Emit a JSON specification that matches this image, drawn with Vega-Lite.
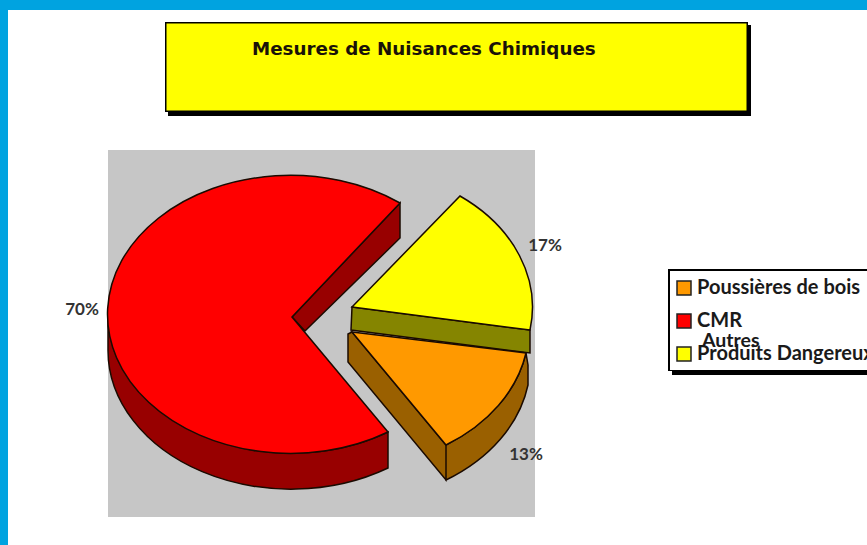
{"$schema":"https://vega.github.io/schema/vega-lite/v6.json","width":868,"height":546,"padding":0,"autosize":"none","background":"white","config":{"view":{"stroke":null}},
"title":{"text":"Mesures de Nuisances Chimiques","anchor":"start","frame":"group","dx":252,"dy":73,"offset":0,"baseline":"alphabetic","font":"DejaVu Sans","fontSize":18.3,"fontWeight":"bold","color":"#1a1208"},
"datasets":{"tranches":[{"categorie":"Poussières de bois","part":0.13,"flanc":"flanc bois"},{"categorie":"CMR","part":0.70,"flanc":"flanc CMR"},{"categorie":"Autres Produits Dangereux","part":0.17,"flanc":"flanc autres"}],
"cadres":[{"element":"bandeau"},{"element":"fond"},{"element":"contour titre"},{"element":"cartouche titre"},{"element":"contour legende"},{"element":"cartouche legende"}]},
"layer":[
{"data":{"name":"cadres"},"mark":{"type":"point","filled":true,"opacity":1,"size":4},
"encoding":{"shape":{"field":"element","legend":null,"scale":{"domain":["bandeau","fond","contour titre","cartouche titre","contour legende","cartouche legende"],"range":["M-434 -273 H434 V-263 H-426 V273 H-434 Z","M-326 -123 H101 V244 H-326 Z","M-269 -251 H314 V-161 H-269 Z M-266 -248 H317 V-157 H-266 Z","M-267.5 -249.5 H312.5 V-162.5 H-267.5 Z","M234 -4 H466 V98 H234 Z M238 0 H466 V102 H238 Z","M236 -2 H466 V97 H236 Z"]}},
"fill":{"field":"element","title":null,"scale":{"domain":["Poussières de bois","CMR","Autres Produits Dangereux","flanc bois","flanc CMR","flanc autres","bandeau","fond","contour titre","cartouche titre","contour legende","cartouche legende"],"range":["#ff9900","#ff0000","#ffff00","#9a6000","#980000","#858500","#00a3e0","#c6c6c6","#000000","#ffff00","#000000","#ffffff"]},
"legend":{"values":["Poussières de bois","CMR","Autres Produits Dangereux"],"orient":"none","legendX":674,"legendY":278,"padding":0,"symbolType":"square","symbolSize":196,"symbolStrokeColor":"#222222","symbolStrokeWidth":1.5,"labelFont":"Lato","labelFontSize":20,"labelFontWeight":"bold","labelColor":"#1a1a1a","labelLimit":400,"rowPadding":13,"labelOffset":3,"labelExpr":"datum.label == 'Autres Produits Dangereux' ? 'Produits Dangereux' : datum.label"}}}},
{"data":{"name":"tranches"},"mark":{"type":"point","filled":true,"opacity":1,"size":4,"stroke":"#1a0a00","strokeWidth":1.5},
"encoding":{"shape":{"field":"categorie","legend":null,"scale":{"domain":["Poussières de bois","CMR","Autres Produits Dangereux"],"range":["M-82 59 L12 172 L12 207 L-86 89 L-86 61 Z M92 80 L94 92 L94 112 A181 139 0 0 1 12 207 L12 172 A181 139 0 0 0 92 80 Z","M-326 41 A183 139 0 0 0 -46 159 L-46 195 A183 139 0 0 1 -326 77 Z M-34 -70 L-34 -35 L-129 58 L-142 44 Z","M-82 34 L96 57 L96 80 L-83 57 Z"]}},
"fill":{"field":"flanc","title":null}}},
{"data":{"name":"tranches"},"mark":{"type":"point","filled":true,"opacity":1,"size":4,"stroke":"#1a0a00","strokeWidth":1.5},
"encoding":{"shape":{"field":"categorie","legend":null,"scale":{"domain":["Poussières de bois","CMR","Autres Produits Dangereux"],"range":["M-82 59 L92 80 A181 139 0 0 1 12 172 Z","M-142 44 L-34 -70 A183 139 0 1 0 -46 159 Z","M-82 34 L26 -77 A181 139 0 0 1 96 57 Z"]}},
"fill":{"field":"categorie","title":null}}},
{"data":{"values":[{"mention":"Autres"}]},"mark":{"type":"text","font":"Lato","fontWeight":"bold","fontSize":19.5,"color":"#1a1a1a","align":"left","dx":268,"dy":68},"encoding":{"text":{"field":"mention"}}},
{"data":{"name":"tranches"},"transform":[{"filter":"datum.categorie == 'CMR'"}],"mark":{"type":"text","font":"Lato","fontWeight":"bold","fontSize":17,"color":"#333333","dx":-352,"dy":37},"encoding":{"text":{"field":"part","format":".0%"}}},
{"data":{"name":"tranches"},"transform":[{"filter":"datum.categorie == 'Autres Produits Dangereux'"}],"mark":{"type":"text","font":"Lato","fontWeight":"bold","fontSize":17,"color":"#333333","dx":111,"dy":-27},"encoding":{"text":{"field":"part","format":".0%"}}},
{"data":{"name":"tranches"},"transform":[{"filter":"datum.categorie == 'Poussières de bois'"}],"mark":{"type":"text","font":"Lato","fontWeight":"bold","fontSize":17,"color":"#333333","dx":92,"dy":182},"encoding":{"text":{"field":"part","format":".0%"}}}
],
"resolve":{"scale":{"shape":"independent"}}}
